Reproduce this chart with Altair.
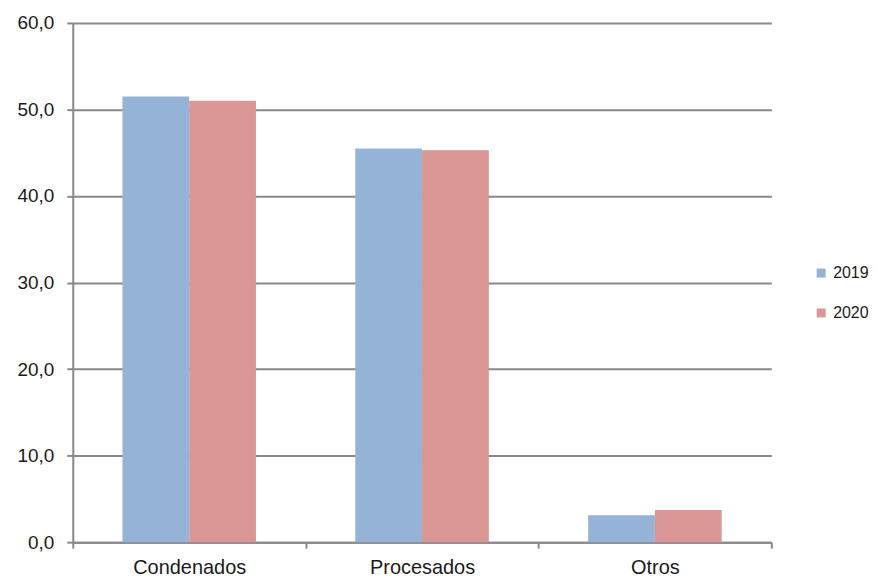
import altair as alt
import pandas as pd

categories = ["Condenados", "Procesados", "Otros"]
years = ["2019", "2020"]
values_2019 = [51.5, 45.5, 3.1]
values_2020 = [51.0, 45.3, 3.7]

rows = []
for c, v in zip(categories, values_2019):
    rows.append({"cat": c, "year": "2019", "value": v})
for c, v in zip(categories, values_2020):
    rows.append({"cat": c, "year": "2020", "value": v})
df = pd.DataFrame(rows)

GRAY = "#888888"
TXT = "#1a1a1a"
FONT = "Liberation Sans"

chart = alt.Chart(df).mark_bar().encode(
    x=alt.X(
        "cat:N",
        sort=categories,
        title=None,
        scale=alt.Scale(paddingInner=0, paddingOuter=0),
        axis=alt.Axis(
            tickBand="extent",
            labelAngle=0,
            labelFontSize=20,
            labelFont=FONT,
            labelColor=TXT,
            labelPadding=9,
            tickSize=6,
            tickColor=GRAY,
            tickWidth=2,
            domainColor=GRAY,
            domainWidth=2,
            grid=False,
        ),
    ),
    xOffset=alt.XOffset(
        "year:N",
        sort=years,
        scale=alt.Scale(paddingInner=0, paddingOuter=0.744),
    ),
    y=alt.Y(
        "value:Q",
        title=None,
        scale=alt.Scale(domain=[0, 60], nice=False),
        axis=alt.Axis(
            values=[0, 10, 20, 30, 40, 50, 60],
            labelExpr="replace(format(datum.value, '.1f'), '.', ',')",
            labelFontSize=19,
            labelFont=FONT,
            labelColor=TXT,
            labelPadding=13,
            tickSize=6,
            tickColor=GRAY,
            tickWidth=2,
            domainColor=GRAY,
            domainWidth=2,
            gridColor=GRAY,
            gridWidth=2,
        ),
    ),
    color=alt.Color(
        "year:N",
        sort=years,
        scale=alt.Scale(domain=years, range=["#95b3d7", "#d99694"]),
        legend=alt.Legend(
            title=None,
            orient="none",
            legendX=743,
            legendY=243,
            symbolType="square",
            symbolSize=81,
            symbolStrokeWidth=0,
            labelFontSize=16,
            labelFont=FONT,
            labelColor=TXT,
            labelOffset=4,
            rowPadding=24,
        ),
    ),
).properties(
    width=701,
    height=521,
    padding={"left": 9, "top": 5, "right": 0, "bottom": 5},
).configure_view(stroke=None)

chart.save("out.html", embed_options={"renderer": "svg", "actions": False})
